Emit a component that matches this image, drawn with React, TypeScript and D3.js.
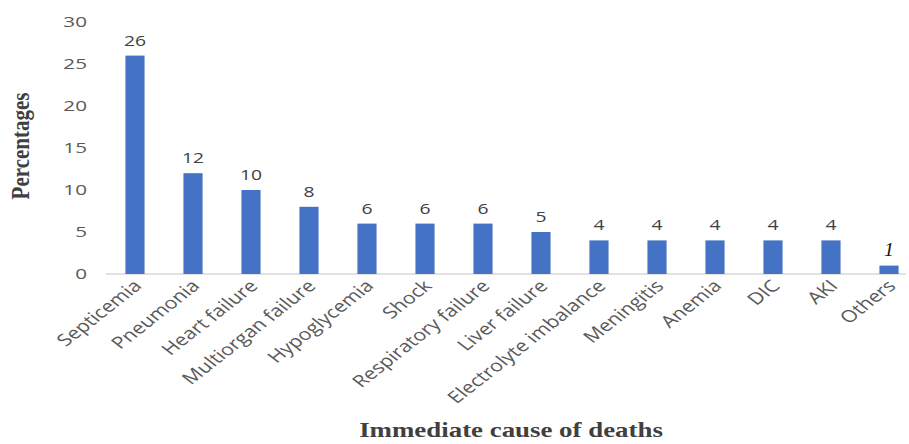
import React from "react";
import * as d3 from "d3";

const causes = [
  "Septicemia",
  "Pneumonia",
  "Heart failure",
  "Multiorgan failure",
  "Hypoglycemia",
  "Shock",
  "Respiratory failure",
  "Liver failure",
  "Electrolyte imbalance",
  "Meningitis",
  "Anemia",
  "DIC",
  "AKI",
  "Others",
];
const percentages = [26, 12, 10, 8, 6, 6, 6, 5, 4, 4, 4, 4, 4, 1];
const yTicks = [0, 5, 10, 15, 20, 25, 30];

const W = 909;
const H = 444;
const labelFont = "'Open Sans', 'Noto Sans', sans-serif";
const titleFont = "'Liberation Serif', 'DejaVu Serif', serif";
// the chart's typography is drawn wide: glyphs are stretched horizontally
const SX = 1.38;
const CAT_SX = 1.28;

export default function App() {
  const x = d3.scaleBand<string>().domain(causes).range([106, 918]).paddingInner(0.67).paddingOuter(0.335);
  const y = d3.scaleLinear().domain([0, 30]).range([274, 22]);

  return (
    <svg width={W} height={H} style={{ position: "absolute", left: 0, top: 0, background: "#fff" }}>
      {/* y tick labels */}
      {yTicks.map((t) => (
        <text
          key={t}
          transform={`translate(87 ${y(t)}) scale(${SX} 1)`}
          dy="0.36em"
          textAnchor="end"
          fontFamily={labelFont}
          fontSize={15}
          fill="#595959"
        >
          {t}
        </text>
      ))}
      {/* baseline */}
      <line x1={106} x2={906} y1={y(0)} y2={y(0)} stroke="#d9d9d9" strokeWidth={1.5} />
      {/* bars */}
      {causes.map((c, i) => (
        <rect key={c} x={x(c)} y={y(percentages[i])} width={x.bandwidth()} height={y(0) - y(percentages[i])} fill="#4472C4" />
      ))}
      {/* value labels */}
      {causes.map((c, i) => {
        const cx = (x(c) as number) + x.bandwidth() / 2;
        const last = c === "Others";
        return (
          <text
            key={c}
            transform={`translate(${cx} ${y(percentages[i]) - 10}) scale(${last ? 1.1 : SX} 1)`}
            textAnchor="middle"
            fontFamily={last ? titleFont : labelFont}
            fontStyle={last ? "italic" : "normal"}
            fontSize={last ? 18 : 14}
            fill={last ? "#111" : "#404040"}
          >
            {percentages[i]}
          </text>
        );
      })}
      {/* category labels */}
      {causes.map((c) => {
        const cx = (x(c) as number) + x.bandwidth() / 2 + 8;
        const cy = y(0) + 13;
        return (
          <text
            key={c}
            transform={`translate(${cx} ${cy}) scale(${CAT_SX} 1) rotate(-45)`}
            textAnchor="end"
            fontFamily={labelFont}
            fontSize={16.7}
            fill="#595959"
          >
            {c}
          </text>
        );
      })}
      {/* axis titles */}
      <text
        transform={`translate(29 ${y(15) - 2}) scale(1.2 1) rotate(-90)`}
        textAnchor="middle"
        fontFamily={titleFont}
        fontWeight="bold"
        fontSize={21}
        fill="#404040"
      >
        Percentages
      </text>
      <text
        transform={`translate(511 437) scale(1.28 1)`}
        textAnchor="middle"
        fontFamily={titleFont}
        fontWeight="bold"
        fontSize={21}
        fill="#404040"
      >
        Immediate cause of deaths
      </text>
    </svg>
  );
}
